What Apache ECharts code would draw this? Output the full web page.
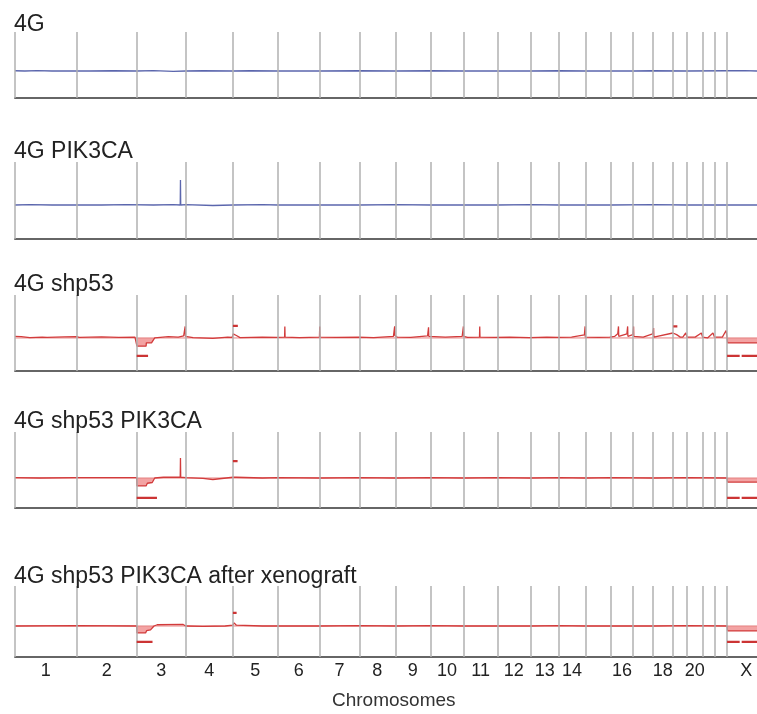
<!DOCTYPE html>
<html>
<head>
<meta charset="utf-8">
<script src="https://cdn.jsdelivr.net/npm/echarts@6/dist/echarts.min.js"></script>
<style>
  html, body { margin: 0; padding: 0; background: #fff; }
  #chart { width: 757px; height: 714px; }
</style>
</head>
<body>
<div id="chart"></div>
<script>
"use strict";

// chromosome lengths in Mb (hg19), X is cut off by the right edge
const chrNames = ["1","2","3","4","5","6","7","8","9","10","11","12","13","14","15","16","17","18","19","20","21","22","X"];
const chrLen = [249,243,198,191,181,171,159,146,141,136,135,134,115,107,103,90,81,78,59,63,48,51,155];
const shownLabels = ["1","2","3","4","5","6","7","8","9","10","11","12","13","14","16","18","20","X"];
const panelTitles = ["4G", "4G PIK3CA", "4G shp53", "4G shp53 PIK3CA", "4G shp53 PIK3CA after xenograft"];

// log2 ratio profiles, [genome position Mb, value]
const p1Profile = [[0,0.02],[40,0],[90,0.03],[150,0],[249,0.01],[300,0],[400,0.02],[492,0],[560,0.03],[640,-0.02],[690,0],[760,0.02],[881,0],[950,0.02],[1062,0],[1150,0.01],[1233,0],[1392,0.02],[1538,0],[1679,0.02],[1815,0],[1950,0.01],[2084,0],[2199,0.02],[2306,0],[2409,0.01],[2499,0],[2580,0.02],[2717,0],[2879,0.02],[2950,0.03],[3000,0]];
const p2Profile = [[0,0],[60,0.02],[150,0],[249,0.01],[350,0],[450,0.02],[560,0],[640,0.02],[668,0],[669,1.47],[670,0],[690,0.02],[800,-0.03],[881,0],[1000,0.02],[1062,0],[1233,0.01],[1392,0],[1538,0.02],[1679,0],[1815,0.01],[1950,0],[2084,0.02],[2199,0],[2306,0.01],[2409,0],[2580,0.02],[2717,0],[2879,0.01],[3000,0]];
const p3Profile = [[0,0.1],[25,0.08],[60,0.02],[110,0.05],[130,0.03],[200,0.06],[249,0.08],[260,0.04],[350,0.06],[420,0.03],[485,0.05],[492,0.05],[493,-0.5],[530,-0.5],[531,-0.3],[552,-0.3],[565,0],[620,0.08],[660,0.05],[682,0.12],[688,0.7],[689,0.1],[720,0.02],[800,-0.02],[860,0.05],[878,0.03],[882,0.25],[895,0.15],[910,0.02],[1000,0.05],[1060,0.04],[1090,0.05],[1091,0.7],[1092,0.05],[1150,0.02],[1231,0.05],[1232,0.7],[1233,0.05],[1300,0.03],[1390,0.05],[1450,0.02],[1530,0.1],[1535,0.7],[1536,0.15],[1545,0.05],[1600,0.03],[1668,0.12],[1672,0.65],[1673,0.1],[1740,0.05],[1808,0.1],[1813,0.7],[1814,0.1],[1830,0.03],[1878,0.05],[1879,0.7],[1880,0.05],[1940,0.03],[2000,0.05],[2080,0.02],[2150,0.05],[2199,0.03],[2250,0.05],[2302,0.18],[2305,0.7],[2306,0.05],[2360,0.03],[2405,0.05],[2425,0.1],[2437,0.25],[2440,0.7],[2441,0.1],[2474,0.25],[2477,0.7],[2478,0.1],[2498,0.2],[2501,0.7],[2502,0.1],[2540,0.05],[2578,0.25],[2582,0.6],[2583,0.05],[2660,0.3],[2675,0.2],[2690,0.05],[2700,0.05],[2712,0.3],[2717,0.05],[2750,0.05],[2775,0.3],[2780,0.05],[2800,0],[2822,0.3],[2828,0.05],[2860,0.05],[2875,0.45],[2879,0],[2881,-0.3],[3000,-0.3]];
const p4Profile = [[0,0.03],[100,0],[249,0.02],[350,0.03],[492,0.02],[493,-0.53],[530,-0.53],[535,-0.35],[555,-0.3],[565,0],[600,0.05],[668,0.05],[669,1.33],[670,0.05],[690,0.02],[760,-0.03],[800,-0.1],[805,0],[881,0.05],[886,0.15],[895,0.05],[1000,0],[1062,0.02],[1233,0],[1392,0.02],[1538,0],[1679,0.02],[1815,0],[1950,0.02],[2084,0],[2199,0.02],[2306,0],[2409,0.02],[2580,0],[2717,0.02],[2879,0],[2881,-0.27],[3000,-0.27]];
const p5Profile = [[0,0],[249,0.02],[492,0],[493,-0.45],[528,-0.45],[532,-0.3],[548,-0.25],[562,0],[575,0.08],[680,0.1],[690,0],[760,-0.02],[850,0],[881,0.05],[886,0.2],[895,0.05],[1000,0],[1062,0.01],[1233,0],[1392,0.02],[1538,0],[1679,0.02],[1815,0],[1950,0.01],[2084,0],[2199,0.02],[2306,0],[2409,0.01],[2580,0],[2717,0.02],[2879,0],[2881,-0.32],[3000,-0.32]];

// shaded losses as polylines
const p3Loss = [[[492,0],[493,-0.5],[530,-0.5],[531,-0.3],[552,-0.3],[565,0]], [[2879,0],[2881,-0.3],[3000,-0.3]]];
const p4Loss = [[[492,0],[493,-0.53],[530,-0.53],[535,-0.35],[555,-0.3],[565,0]], [[2879,0],[2881,-0.27],[3000,-0.27]]];
const p5Loss = [[[492,0],[493,-0.45],[528,-0.45],[532,-0.3],[548,-0.25],[562,0]], [[2879,0],[2881,-0.32],[3000,-0.32]]];

// segment calls [start, end, value]
const p3Segs = [[881,901,0.73],[2662,2678,0.7],[492,538,-1.09],[2879,2930,-1.09],[2938,3000,-1.09]];
const p4Segs = [[881,900,1.13],[492,574,-1.33],[2879,2930,-1.33],[2938,3000,-1.33]];
const p5Segs = [[881,896,0.84],[492,556,-1.03],[2879,2930,-1.03],[2938,3000,-1.03]];

const panels = [
  { profile: p1Profile, loss: [], segs: [], color: "#5b66ad" },
  { profile: p2Profile, loss: [], segs: [], color: "#5b66ad" },
  { profile: p3Profile, loss: p3Loss, segs: p3Segs, color: "#d23b3b" },
  { profile: p4Profile, loss: p4Loss, segs: p4Segs, color: "#d23b3b" },
  { profile: p5Profile, loss: p5Loss, segs: p5Segs, color: "#d23b3b" },
];

// layout per panel: top of chromosome lines, bottom axis, top of y range
const gridTop = [32, 162, 295, 432, 586];
const gridBottom = [98, 239, 371, 508, 657];
const yMax = [2.89, 2.53, 2.6, 3.07, 2.58];
const titleTop = [13, 140, 273, 410, 565];
const X_MAX = 3000;

const starts = [];
let acc = 0;
chrLen.forEach((l) => { starts.push(acc); acc += l; });
const boundaries = starts.slice();
const centers = starts.map((s, i) => s + chrLen[i] / 2);
const labelVals = centers.filter((c, i) => shownLabels.includes(chrNames[i]));

const FONT = "'Liberation Sans', Arial, Helvetica, sans-serif";

const grids = [], xAxes = [], yAxes = [], series = [], titles = [];
panels.forEach((p, i) => {
  const last = i === panels.length - 1;
  grids.push({ left: 15, right: 0, top: gridTop[i], height: gridBottom[i] - gridTop[i] });
  xAxes.push({
    gridIndex: i, type: "value", min: 0, max: X_MAX,
    splitLine: { show: false },
    axisTick: { show: false },
    axisLine: { show: true, onZero: false, lineStyle: { color: "#666", width: 2 } },
    axisLabel: last ? {
      show: true, customValues: labelVals, margin: 5,
      color: "#222", fontSize: 18, fontFamily: FONT,
      formatter: (v) => chrNames[centers.indexOf(v)],
    } : { show: false },
  });
  yAxes.push({ gridIndex: i, type: "value", min: -2, max: yMax[i], show: false });
  titles.push({
    text: panelTitles[i], left: 14, top: titleTop[i], padding: 0,
    textStyle: { fontSize: 23, fontWeight: "normal", color: "#222", fontFamily: FONT },
  });

  // chromosome boundaries
  series.push({
    type: "line", xAxisIndex: i, yAxisIndex: i, data: [], silent: true,
    markLine: {
      silent: true, symbol: "none", animation: false,
      label: { show: false },
      lineStyle: { color: "#b0b0b0", width: 1.5, type: "solid" },
      data: boundaries.map((b) => ({ xAxis: b })),
    },
  });

  p.loss.forEach((pts) => {
    series.push({
      type: "line", xAxisIndex: i, yAxisIndex: i, data: pts, symbol: "none",
      lineStyle: { width: 0 }, areaStyle: { color: "#f3a3a3", opacity: 1, origin: 0 },
      silent: true, z: 2,
    });
  });

  if (i >= 2) {
    series.push({
      type: "line", xAxisIndex: i, yAxisIndex: i, data: [[0, 0], [X_MAX, 0]],
      symbol: "none", lineStyle: { color: "#e58080", width: 1 }, silent: true, z: 3,
    });
  }

  series.push({
    type: "line", xAxisIndex: i, yAxisIndex: i, data: p.profile, symbol: "none",
    lineStyle: { color: p.color, width: 1.3 }, silent: true, z: 4,
  });

  const segData = [];
  p.segs.forEach(([s, e, v]) => { segData.push([s, v], [e, v], [e, "-"]); });
  if (segData.length) {
    series.push({
      type: "line", xAxisIndex: i, yAxisIndex: i, data: segData, symbol: "none",
      connectNulls: false, lineStyle: { color: "#cc3434", width: 2.2 }, silent: true, z: 5,
    });
  }
});

const chart = echarts.init(document.getElementById("chart"), null, { renderer: "canvas" });
chart.setOption({
  animation: false,
  backgroundColor: "#fff",
  title: titles,
  grid: grids,
  xAxis: xAxes,
  yAxis: yAxes,
  series: series,
  graphic: [{
    type: "text", left: 332, top: 691,
    style: { text: "Chromosomes", fontSize: 19, fill: "#333", fontFamily: FONT },
  }],
});
</script>
</body>
</html>
